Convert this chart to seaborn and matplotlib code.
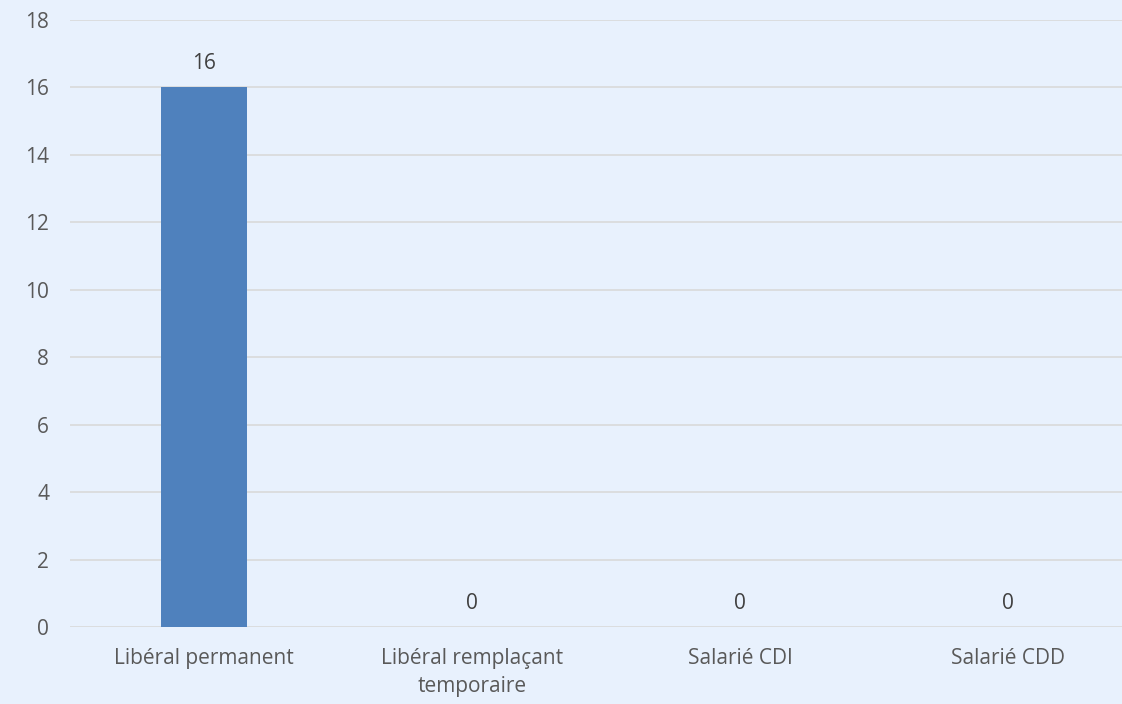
import matplotlib
matplotlib.use("Agg")
import matplotlib.pyplot as plt
import seaborn as sns
import pandas as pd

categories = ["Libéral permanent", "Libéral remplaçant\ntemporaire", "Salarié CDI", "Salarié CDD"]
values = [16, 0, 0, 0]

bg = "#E8F1FD"
sns.set_style("white")
plt.rcParams["font.family"] = ["Open Sans", "DejaVu Sans"]

df = pd.DataFrame({"cat": categories, "val": values})

fig = plt.figure(figsize=(11.22, 7.04), dpi=100, facecolor=bg)
ax = fig.add_axes([70 / 1122, 77 / 704, 1072 / 1122, 607 / 704])
ax.set_facecolor(bg)

sns.barplot(data=df, x="cat", y="val", color="#4F81BD", width=0.32,
            saturation=1, linewidth=0, ax=ax, zorder=3)

ax.set_ylim(0, 18)
ax.set_yticks(range(0, 19, 2))
ax.set_xlim(-0.5, 3.5)
ax.grid(axis="y", color="#D9D9D9", linewidth=1.2, zorder=0)
ax.set_axisbelow(True)
for s in ax.spines.values():
    s.set_visible(False)
ax.set_xlabel("")
ax.set_ylabel("")
ax.tick_params(axis="both", length=0, labelsize=15, labelcolor="#595959")
ax.tick_params(axis="y", pad=15)
ax.tick_params(axis="x", pad=15)
for lbl in ax.get_xticklabels():
    lbl.set_linespacing(1.45)

for i, v in enumerate(values):
    ax.text(i, v + 0.4, str(v), ha="center", va="bottom", fontsize=15, color="#404040")

fig.savefig("out.png", dpi=100, facecolor=bg)
